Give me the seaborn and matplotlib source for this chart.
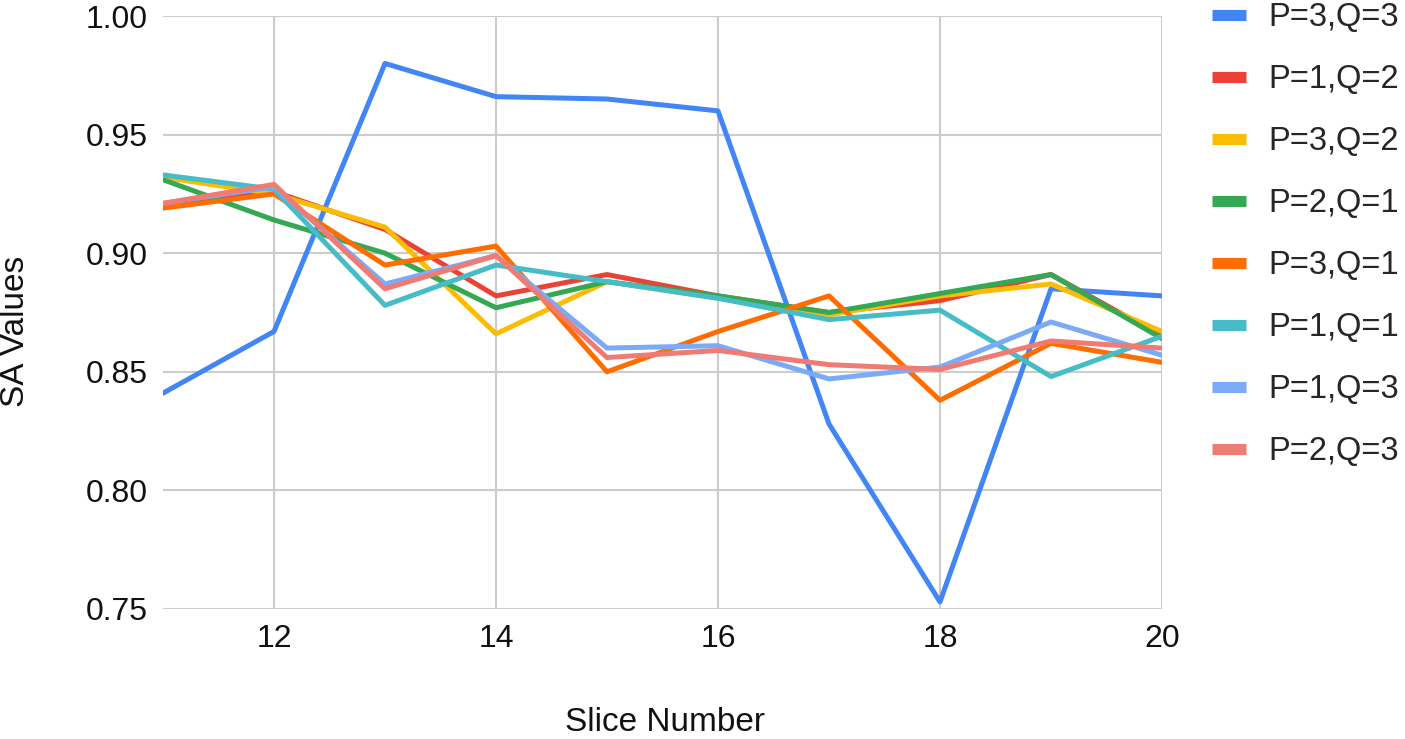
import pandas as pd
import matplotlib
matplotlib.use("Agg")
import matplotlib.pyplot as plt
import seaborn as sns

# Slice numbers on the x axis
slices = [11, 12, 13, 14, 15, 16, 17, 18, 19, 20]

# SA values per (P, Q) setting
p3_q3 = [0.841, 0.867, 0.980, 0.966, 0.965, 0.960, 0.828, 0.753, 0.885, 0.882]
p1_q2 = [0.920, 0.926, 0.910, 0.882, 0.891, 0.882, 0.875, 0.880, 0.891, 0.865]
p3_q2 = [0.932, 0.925, 0.911, 0.866, 0.888, 0.881, 0.874, 0.882, 0.887, 0.867]
p2_q1 = [0.931, 0.914, 0.900, 0.877, 0.888, 0.882, 0.875, 0.883, 0.891, 0.864]
p3_q1 = [0.919, 0.925, 0.895, 0.903, 0.850, 0.867, 0.882, 0.838, 0.862, 0.854]
p1_q1 = [0.933, 0.927, 0.878, 0.895, 0.888, 0.881, 0.872, 0.876, 0.848, 0.865]
p1_q3 = [0.921, 0.928, 0.887, 0.899, 0.860, 0.861, 0.847, 0.852, 0.871, 0.857]
p2_q3 = [0.921, 0.929, 0.885, 0.899, 0.856, 0.859, 0.853, 0.851, 0.863, 0.860]

series = {
    "P=3,Q=3": p3_q3,
    "P=1,Q=2": p1_q2,
    "P=3,Q=2": p3_q2,
    "P=2,Q=1": p2_q1,
    "P=3,Q=1": p3_q1,
    "P=1,Q=1": p1_q1,
    "P=1,Q=3": p1_q3,
    "P=2,Q=3": p2_q3,
}
colors = ["#4285F4", "#EA4335", "#FBBC04", "#34A853",
          "#FF6D01", "#46BDC6", "#7BAAF7", "#F07B72"]

rows = []
for name, vals in series.items():
    for s, v in zip(slices, vals):
        rows.append({"Slice Number": s, "SA Values": v, "Setting": name})
df = pd.DataFrame(rows)

sns.set_style("white")
plt.rcParams["font.family"] = ["Liberation Sans", "DejaVu Sans"]

fig = plt.figure(figsize=(14.05, 7.39), dpi=100)
ax = fig.add_axes([163 / 1405, 1 - 609 / 739, (1162 - 163) / 1405, (609 - 16) / 739])

sns.lineplot(data=df, x="Slice Number", y="SA Values", hue="Setting",
             hue_order=list(series.keys()), palette=colors, linewidth=3.6, ax=ax)

ax.set_xlim(11, 20)
ax.set_ylim(0.75, 1.00)
ax.set_xticks([12, 14, 16, 18, 20])
ax.set_yticks([0.75, 0.80, 0.85, 0.90, 0.95, 1.00])
ax.set_yticklabels([f"{t:.2f}" for t in [0.75, 0.80, 0.85, 0.90, 0.95, 1.00]])
ax.grid(True, color="#cccccc", linewidth=1.5)
ax.set_axisbelow(True)
for sp in ax.spines.values():
    sp.set_visible(False)
ax.tick_params(axis="both", length=0, labelsize=23, colors="#111111", pad=11)
ax.set_xlabel("Slice Number", fontsize=24, color="#111111")
ax.set_ylabel("SA Values", fontsize=24, color="#111111")
ax.xaxis.set_label_coords(0.503, -0.166)
ax.yaxis.set_label_coords(-0.132, 0.469)

leg = ax.legend(loc="upper left", bbox_to_anchor=(1.037, 1.045), frameon=False,
                fontsize=23.5, handlelength=1.05, handletextpad=0.68, labelspacing=0.95,
                borderaxespad=0)
for h in leg.get_lines():
    h.set_linewidth(8)
    h.set_solid_capstyle("butt")

fig.savefig("out.png", dpi=100)
